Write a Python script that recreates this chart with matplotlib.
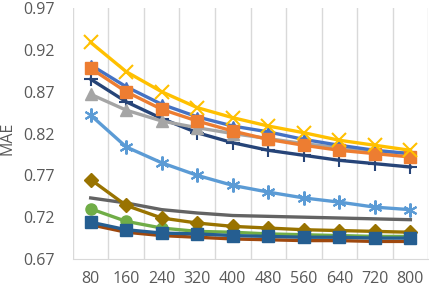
import matplotlib
matplotlib.use("Agg")
import matplotlib.pyplot as plt
import numpy as np

plt.rcParams['font.family'] = ['Open Sans', 'DejaVu Sans']

sizes = ['80', '160', '240', '320', '400', '480', '560', '640', '720', '800']

# MAE per series
s_blue = [0.902, 0.876, 0.855, 0.840, 0.829, 0.822, 0.813, 0.806, 0.800, 0.796]
s_orange = [0.898, 0.870, 0.849, 0.835, 0.823, 0.813, 0.806, 0.800, 0.796, 0.792]
s_gray = [0.867, 0.848, 0.835, 0.827, 0.820, 0.814, 0.808, 0.803, 0.799, 0.796]
s_yellow = [0.929, 0.894, 0.870, 0.851, 0.839, 0.829, 0.821, 0.812, 0.806, 0.800]
s_navy = [0.885, 0.858, 0.838, 0.821, 0.809, 0.800, 0.794, 0.788, 0.784, 0.780]
s_ltblue = [0.842, 0.804, 0.785, 0.770, 0.758, 0.750, 0.743, 0.738, 0.732, 0.729]
s_dkgray = [0.743, 0.737, 0.729, 0.725, 0.722, 0.721, 0.720, 0.719, 0.718, 0.717]
s_gold = [0.765, 0.734, 0.719, 0.713, 0.709, 0.707, 0.705, 0.704, 0.703, 0.702]
s_green = [0.730, 0.715, 0.707, 0.703, 0.702, 0.700, 0.699, 0.698, 0.697, 0.697]
s_brown = [0.711, 0.702, 0.698, 0.696, 0.694, 0.693, 0.692, 0.692, 0.691, 0.691]
s_sqblue = [0.714, 0.705, 0.701, 0.700, 0.698, 0.697, 0.696, 0.696, 0.695, 0.695]

x = np.arange(len(sizes))

fig = plt.figure(figsize=(4.29, 2.87), dpi=100)
ax = fig.add_axes([0.170, 0.0976, 0.828, 0.874])

lw = 2.4
ax.plot(x, s_dkgray, color='#636363', lw=lw)
ax.plot(x, s_brown, color='#9E480E', lw=lw)
ax.plot(x, s_green, color='#70AD47', lw=lw, marker='o', ms=8)
ax.plot(x, s_gold, color='#997300', lw=lw, marker='D', ms=7)
ax.plot(x, s_sqblue, color='#255E91', lw=lw, marker='s', ms=8)
ax.plot(x, s_ltblue, color='#5B9BD5', lw=lw, marker=(6, 2, 0), ms=10, mew=1.5)
ax.plot(x, s_navy, color='#264478', lw=lw, marker='+', ms=10, mew=1.5)
ax.plot(x, s_gray, color='#A5A5A5', lw=lw, marker='^', ms=9)
ax.plot(x, s_blue, color='#4472C4', lw=lw, marker='^', ms=7)
ax.plot(x, s_orange, color='#ED7D31', lw=lw, marker='s', ms=8)
ax.plot(x, s_yellow, color='#FFC000', lw=lw, marker='x', ms=10, mew=1.5)

ax.set_xlim(-0.5, 9.5)
ax.set_ylim(0.67, 0.97)
ax.set_yticks([0.67, 0.72, 0.77, 0.82, 0.87, 0.92, 0.97])
ax.set_yticklabels(['0.67', '0.72', '0.77', '0.82', '0.87', '0.92', '0.97'])
ax.set_xticks(x)
ax.set_xticklabels(sizes)
ax.set_xticks(np.arange(-0.5, 10, 1), minor=True)
ax.grid(True, which='minor', axis='x', color='#D9D9D9', lw=1)
ax.tick_params(which='both', length=0)
ax.tick_params(axis='both', labelsize=11.5, colors='#595959')
ax.tick_params(axis='y', pad=13)
ax.tick_params(axis='x', pad=9)
for sp in ['top', 'right', 'left']:
    ax.spines[sp].set_visible(False)
ax.spines['bottom'].set_color('#D9D9D9')
ax.set_ylabel('MAE', fontsize=11.5, color='#595959')
ax.yaxis.set_label_coords(-0.163, 0.48)

fig.savefig('out.png', dpi=100)
